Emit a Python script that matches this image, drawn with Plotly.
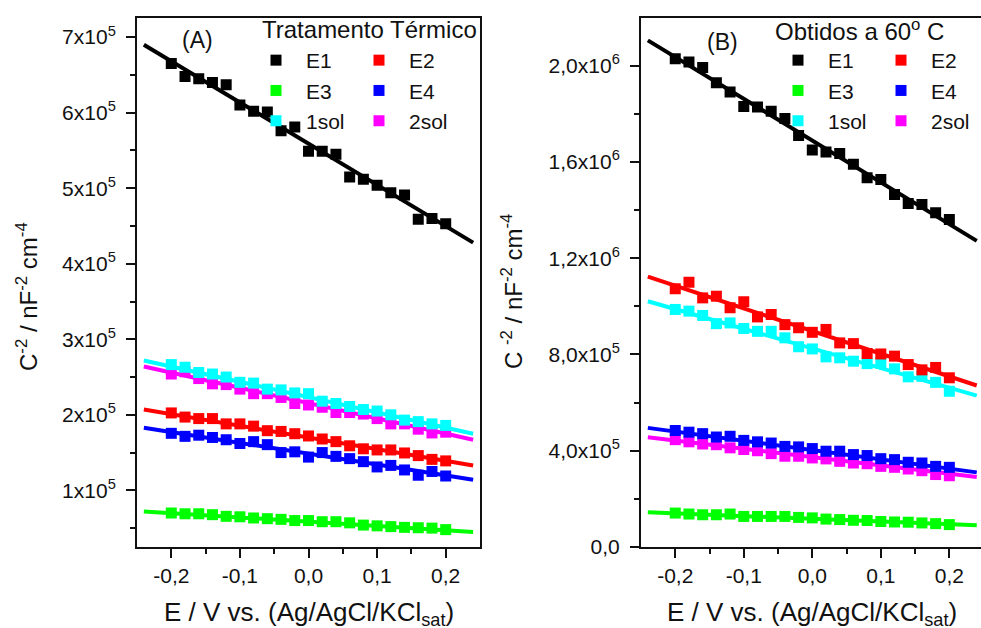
import plotly.graph_objects as go

# ---------------- data ----------------
# potential E / V vs Ag/AgCl/KCl(sat)
E = [-0.20, -0.18, -0.16, -0.14, -0.12, -0.10, -0.08, -0.06, -0.04, -0.02,
     0.00, 0.02, 0.04, 0.06, 0.08, 0.10, 0.12, 0.14, 0.16, 0.18, 0.20]
fit_E = [-0.24, 0.24]

# Panel A (Tratamento Térmico), C^-2 in units of 1e5 nF^-2 cm^-4
A_E1 = [6.65, 6.48, 6.45, 6.40, 6.37, 6.10, 6.02, 6.01, 5.76, 5.81, 5.49,
        5.49, 5.45, 5.15, 5.12, 5.04, 4.94, 4.91, 4.59, 4.60, 4.53]
A_E2 = [2.025, 1.97, 1.95, 1.95, 1.88, 1.88, 1.85, 1.79, 1.78, 1.75, 1.72,
        1.68, 1.645, 1.59, 1.55, 1.535, 1.535, 1.495, 1.46, 1.41, 1.39]
A_E3 = [0.70, 0.69, 0.69, 0.678, 0.656, 0.65, 0.634, 0.625, 0.616, 0.60, 0.60,
        0.585, 0.585, 0.57, 0.54, 0.53, 0.52, 0.51, 0.505, 0.50, 0.48]
A_E4 = [1.755, 1.715, 1.73, 1.70, 1.67, 1.62, 1.645, 1.605, 1.50, 1.51, 1.44,
        1.50, 1.45, 1.42, 1.38, 1.31, 1.33, 1.27, 1.20, 1.25, 1.19]
A_1sol = [2.665, 2.63, 2.56, 2.54, 2.50, 2.43, 2.42, 2.34, 2.33, 2.29, 2.28,
          2.18, 2.15, 2.11, 2.07, 2.05, 2.00, 1.93, 1.91, 1.88, 1.86]
A_2sol = [2.54, 2.57, 2.48, 2.41, 2.40, 2.34, 2.28, 2.28, 2.23, 2.15, 2.13,
          2.10, 2.03, 2.03, 2.01, 1.95, 1.88, 1.88, 1.81, 1.76, 1.77]
A_fit = {"E1": [6.90, 4.28], "E2": [2.07, 1.33], "E3": [0.72, 0.45],
         "E4": [1.83, 1.14], "1sol": [2.72, 1.75], "2sol": [2.64, 1.67]}

# Panel B (Obtidos a 60 C), C^-2 in units of 1e5 nF^-2 cm^-4
B_E1 = [20.29, 20.15, 19.92, 19.29, 18.90, 18.30, 18.28, 18.11, 17.80, 17.10, 16.49,
        16.41, 16.35, 15.90, 15.34, 15.27, 14.65, 14.27, 14.23, 13.89, 13.61]
B_E2 = [10.73, 11.00, 10.35, 10.42, 9.94, 10.19, 9.56, 9.66, 9.24, 9.11, 8.92,
        9.04, 8.48, 8.45, 8.04, 8.02, 7.93, 7.58, 7.36, 7.46, 7.03]
B_E3 = [1.41, 1.37, 1.34, 1.34, 1.37, 1.27, 1.27, 1.27, 1.27, 1.23, 1.21,
        1.16, 1.14, 1.11, 1.10, 1.06, 1.04, 1.03, 1.00, 0.97, 0.93]
B_E4 = [4.84, 4.77, 4.71, 4.57, 4.60, 4.43, 4.37, 4.32, 4.18, 4.16, 4.09,
        3.98, 3.98, 3.84, 3.80, 3.67, 3.63, 3.52, 3.49, 3.35, 3.31]
B_1sol = [9.87, 9.80, 9.62, 9.28, 9.31, 9.08, 8.96, 8.96, 8.69, 8.32, 8.23,
          7.90, 7.86, 7.72, 7.62, 7.65, 7.40, 7.07, 7.09, 6.84, 6.47]
B_2sol = [4.46, 4.37, 4.28, 4.25, 4.12, 4.05, 4.00, 3.88, 3.77, 3.77, 3.70,
          3.66, 3.56, 3.49, 3.46, 3.35, 3.31, 3.24, 3.17, 3.01, 2.96]
B_fit = {"E1": [21.05, 12.72], "E2": [11.23, 6.71], "E3": [1.44, 0.90],
         "E4": [4.95, 3.10], "1sol": [10.21, 6.29], "2sol": [4.56, 2.91]}

x_ticks = [-0.2, -0.1, 0.0, 0.1, 0.2]
x_ticktext = ["-0,2", "-0,1", "0,0", "0,1", "0,2"]
A_yticks = [1, 2, 3, 4, 5, 6, 7]
A_yticktext = ["%dx10<sup>5</sup>" % v for v in A_yticks]
B_yticks = [0, 4, 8, 12, 16, 20]
B_yticktext = ["0,0", "4,0x10<sup>5</sup>", "8,0x10<sup>5</sup>",
               "1,2x10<sup>6</sup>", "1,6x10<sup>6</sup>", "2,0x10<sup>6</sup>"]

# ---------------- styling ----------------
W, H = 981, 628
FONT = "Arial, Liberation Sans, sans-serif"
colors = {"E1": "#000000", "E2": "#ff0000", "E3": "#00ff00",
          "E4": "#0000ff", "1sol": "#00ffff", "2sol": "#ff00ff"}
rank = {"E1": 1, "E3": 2, "1sol": 3, "E2": 1, "E4": 2, "2sol": 3}
col = {"E1": 0, "E3": 0, "1sol": 0, "E2": 1, "E4": 1, "2sol": 1}
draw_order = ["E3", "2sol", "E4", "1sol", "E2", "E1"]

A_data = {"E1": A_E1, "E2": A_E2, "E3": A_E3, "E4": A_E4, "1sol": A_1sol, "2sol": A_2sol}
B_data = {"E1": B_E1, "E2": B_E2, "E3": B_E3, "E4": B_E4, "1sol": B_1sol, "2sol": B_2sol}

fig = go.Figure()

def add_panel(data, fits, xa, ya, legends):
    for name in draw_order:
        c = colors[name]
        fig.add_trace(go.Scatter(x=fit_E, y=fits[name], mode="lines",
                                 line=dict(color=c, width=4), showlegend=False,
                                 xaxis=xa, yaxis=ya, hoverinfo="skip"))
        fig.add_trace(go.Scatter(x=E, y=data[name], mode="markers", name=name,
                                 marker=dict(symbol="square", size=11, color=c, line=dict(width=0)),
                                 xaxis=xa, yaxis=ya, legend=legends[col[name]],
                                 legendrank=rank[name]))

add_panel(A_data, A_fit, "x", "y", ["legend", "legend2"])
add_panel(B_data, B_fit, "x2", "y2", ["legend3", "legend4"])

px = lambda v: v / W
py = lambda v: 1 - v / H

ydom = [py(547), py(17.5)]
axis_common = dict(showgrid=False, zeroline=False, linecolor="#111", linewidth=2,
                   ticks="outside", ticklen=9, tickwidth=2, tickcolor="#111",
                   automargin=False,
                   tickfont=dict(family=FONT, size=21, color="#111"))

xaxis_common = dict(axis_common, tickvals=x_ticks, ticktext=x_ticktext,
                    minor=dict(ticks="outside", ticklen=5, tickwidth=2, tickcolor="#111",
                               tickvals=[-0.15, -0.05, 0.05, 0.15]))

leg_common = dict(bgcolor="rgba(0,0,0,0)", borderwidth=0, itemwidth=50,
                  tracegroupgap=0, xanchor="left", yanchor="top",
                  font=dict(family=FONT, size=21, color="#111"))

fig.update_layout(
    width=W, height=H, margin=dict(l=0, r=0, t=0, b=0, autoexpand=False),
    paper_bgcolor="white", plot_bgcolor="white",
    font=dict(family=FONT, color="#111"),
    xaxis=dict(xaxis_common, domain=[px(137), px(480)], range=[-0.25, 0.25],
               anchor="y", mirror=True),
    yaxis=dict(axis_common, domain=ydom, range=[0.25, 7.26], anchor="x", mirror=True,
               tickvals=A_yticks, ticktext=A_yticktext, ticklabelstandoff=6,
               minor=dict(ticks="outside", ticklen=5, tickwidth=2, tickcolor="#111",
                          tickvals=[0.5, 1.5, 2.5, 3.5, 4.5, 5.5, 6.5])),
    xaxis2=dict(xaxis_common, domain=[px(641), 1.0], range=[-0.25, 0.2462],
                anchor="y2", mirror=True),
    yaxis2=dict(axis_common, domain=ydom, range=[0, 22.0], anchor="x2", mirror=False,
                tickvals=B_yticks, ticktext=B_yticktext, ticklabelstandoff=6,
                minor=dict(ticks="outside", ticklen=5, tickwidth=2, tickcolor="#111",
                           tickvals=[2, 6, 10, 14, 18])),
    legend=dict(leg_common, x=px(246), y=py(40)),
    legend2=dict(leg_common, x=px(349), y=py(40)),
    legend3=dict(leg_common, x=px(768), y=py(40)),
    legend4=dict(leg_common, x=px(871), y=py(40)),
)

ann = []
def text(x, y, s, size, xanchor="center", angle=0):
    ann.append(dict(x=px(x), y=py(y), xref="paper", yref="paper", text=s,
                    showarrow=False, xanchor=xanchor, yanchor="middle",
                    textangle=angle, font=dict(family=FONT, size=size, color="#111")))

text(197, 40, "(A)", 23)
text(479, 30, "Tratamento Térmico", 24, xanchor="right")
text(722, 42, "(B)", 23)
text(859, 30, "Obtidos a 60<sup>o</sup> C", 24)
text(27, 297, "C<sup>-2</sup> / nF<sup>-2</sup> cm<sup>-4</sup>", 24, angle=-90)
text(512, 292, "C <sup>-2</sup> / nF<sup>-2</sup> cm<sup>-4</sup>", 24, angle=-90)
text(309, 613, "E / V vs. (Ag/AgCl/KCl<sub>sat</sub>)", 26)
text(812, 613, "E / V vs. (Ag/AgCl/KCl<sub>sat</sub>)", 26)
fig.update_layout(annotations=ann)

fig.write_html("out.html", config={"displayModeBar": False},
               post_script="document.body.style.margin='0';document.body.style.overflow='hidden';")
